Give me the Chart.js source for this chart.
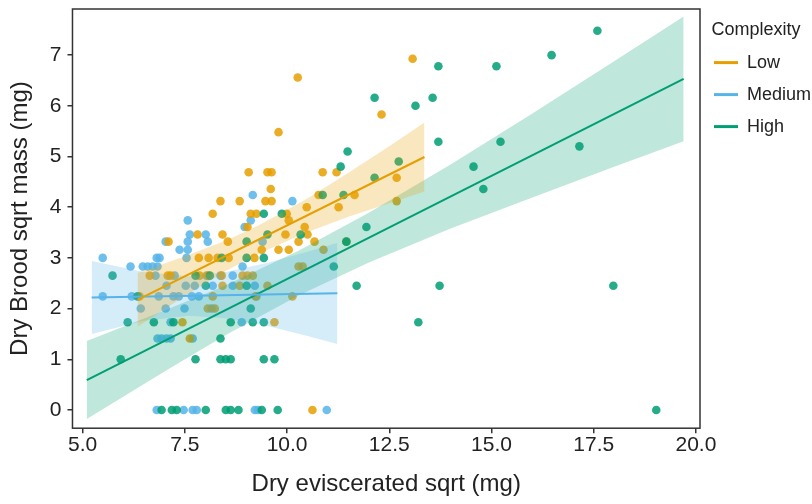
<!DOCTYPE html>
<html><head><meta charset="utf-8">
<script src="https://cdn.jsdelivr.net/npm/chart.js@4.4.1/dist/chart.umd.min.js"></script>
<style>html,body{margin:0;padding:0;background:#fff}#wrap{width:812px;height:504px;position:relative}</style>
</head><body><div id="wrap"><canvas id="c" width="812" height="504"></canvas></div>
<script>
const xTicks = [5, 7.5, 10, 12.5, 15, 17.5, 20];
const yTicks = [0, 1, 2, 3, 4, 5, 6, 7];
const groups = ['Low', 'Medium', 'High'];

const lowX = [10.26,13.07,12.31,9.79,9.06,9.52,9.62,10.87,11.21,12.68,9.60,10.77,11.65,8.37,8.84,9.47,9.62,12.68,10.48,11.26,8.18,9.11,9.25,9.99,10.04,9.03,10.43,7.81,8.42,9.96,10.50,7.10,8.55,10.28,10.67,11.45,9.38,9.79,10.04,10.89,7.84,8.08,8.30,8.57,9.20,10.28,10.38,6.64,7.08,7.15,7.86,8.06,8.40,8.91,9.03,9.16,8.42,8.84,9.52,8.18,9.23,10.13,8.06,8.23,7.44,9.69,7.62,10.62,6.39];
const lowY = [6.56,6.93,5.83,5.48,4.69,4.69,4.69,4.69,4.69,4.58,4.36,4.24,4.24,4.12,4.12,4.12,4.12,4.12,4.0,4.0,3.87,3.87,3.87,3.87,3.74,3.61,3.61,3.46,3.46,3.46,3.46,3.32,3.32,3.32,3.32,3.32,3.16,3.16,3.16,3.16,3.0,3.0,3.0,3.0,3.0,2.83,2.83,2.65,2.65,2.65,2.65,2.65,2.65,2.65,2.65,2.65,2.45,2.45,2.45,2.24,2.24,2.24,2.0,2.0,1.73,1.73,1.41,0,2.24];

const medX = [5.49,5.49,6.17,6.20,6.47,6.59,6.71,6.83,6.42,6.81,6.88,6.78,6.86,7.03,7.03,7.05,7.25,7.22,7.35,7.15,6.83,6.93,7.05,7.15,7.37,7.57,7.57,7.57,7.62,7.54,7.49,7.52,7.74,7.67,7.84,7.69,8.01,8.06,8.03,8.15,8.18,8.37,8.67,8.67,8.89,8.96,9.11,9.16,9.21,9.25,8.91,9.40,10.13,6.81,7.47,7.69,7.79,9.21,9.28,10.97];
const medY = [3.0,2.24,2.83,2.24,2.83,2.83,2.83,2.83,2.0,3.0,3.0,2.65,2.24,3.32,2.0,2.45,2.65,2.24,2.24,1.73,1.41,1.41,1.41,1.41,3.16,3.16,3.32,3.74,3.46,3.0,2.0,2.45,2.45,2.24,2.24,1.41,3.46,3.32,2.65,2.0,2.45,2.65,2.45,2.65,1.73,3.61,3.74,4.24,2.45,2.24,2.83,3.32,4.12,0,0,0,0,0,0,0];

const highX = [17.59,16.47,15.12,13.70,12.14,13.56,13.14,13.70,15.22,17.15,11.48,11.31,14.56,12.73,12.14,14.80,10.87,11.38,9.43,9.87,11.94,9.01,9.52,10.33,11.45,9.01,9.43,8.40,11.14,7.76,8.11,5.73,8.01,9.01,11.70,13.73,17.98,6.34,9.11,6.10,6.74,7.22,8.62,9.16,9.43,13.21,8.37,5.93,7.76,8.37,8.50,8.62,9.43,9.69,6.93,7.18,7.30,8.01,8.50,8.62,8.81,9.38,9.77,19.03];
const highY = [7.48,7.0,6.78,6.78,6.16,6.16,6.0,5.29,5.29,5.20,5.10,4.80,4.80,4.90,4.58,4.36,4.24,4.24,3.87,3.87,3.61,3.32,3.46,3.46,3.32,3.0,3.0,3.0,2.83,2.65,2.65,2.65,2.45,2.45,2.45,2.45,2.45,2.24,2.0,1.73,1.73,1.73,1.73,1.73,1.73,1.73,1.41,1.0,1.0,1.0,1.0,1.0,1.0,1.0,0,0,0,0,0,0,0,0,0,0];

const lowLineX = [6.34, 13.36];
const lowLineY = [2.17, 4.99];
const medLineX = [5.22, 11.23];
const medLineY = [2.22, 2.30];
const highLineX = [5.1, 19.7];
const highLineY = [0.59, 6.53];

const lowBandX = [6.34, 7.5, 8.5, 9.3, 10.5, 11.5, 12.5, 13.36];
const lowBandLo = [1.64, 2.25, 2.74, 3.08, 3.51, 3.81, 4.08, 4.31];
const lowBandHi = [2.70, 3.03, 3.34, 3.64, 4.17, 4.68, 5.20, 5.67];
const medBandX = [5.22, 6.5, 7.6, 8.5, 9.5, 10.5, 11.23];
const medBandLo = [1.50, 1.76, 1.86, 1.81, 1.66, 1.46, 1.30];
const medBandHi = [2.94, 2.72, 2.64, 2.72, 2.90, 3.12, 3.30];
const highBandX = [5.1, 7, 8.5, 10.28, 12, 14, 16, 18, 19.7];
const highBandLo = [-0.18, 0.76, 1.48, 2.26, 2.91, 3.58, 4.19, 4.80, 5.30];
const highBandHi = [1.36, 1.96, 2.46, 3.14, 3.89, 4.84, 5.85, 6.88, 7.76];

const COL = ['#E69F00', '#56B4E9', '#009E73'];
const BAND = ['rgba(230,159,0,0.25)', 'rgba(86,180,233,0.25)', 'rgba(0,158,115,0.25)'];
const PT = ['rgba(230,159,0,0.85)', 'rgba(86,180,233,0.85)', 'rgba(0,158,115,0.85)'];

const pts = (xs, ys) => xs.map((x, i) => ({x: x, y: ys[i]}));
const FONT = '"Liberation Sans", Arial, Helvetica, sans-serif';
Chart.defaults.font.family = FONT;

const lineDs = (label, xs, ys, c) => ({type: 'line', label, data: pts(xs, ys), borderColor: c, backgroundColor: c, borderWidth: 2, pointRadius: 0, fill: false, tension: 0});
const bandHi = (xs, ys, c) => ({type: 'line', label: 'bandHi', data: pts(xs, ys), borderWidth: 0, borderColor: 'rgba(0,0,0,0)', pointRadius: 0, fill: '+1', backgroundColor: c, tension: 0});
const bandLo = (xs, ys) => ({type: 'line', label: 'bandLo', data: pts(xs, ys), borderWidth: 0, borderColor: 'rgba(0,0,0,0)', pointRadius: 0, fill: false, tension: 0});
const ptDs = (xs, ys, c) => ({type: 'scatter', label: 'points', data: pts(xs, ys), backgroundColor: c, borderWidth: 0, pointRadius: 4.3, pointHoverRadius: 4.3});

const frame = {
  id: 'frame',
  beforeLayout(chart) {
    const lg = chart.legend;
    if (lg && !lg._fixedW) {
      const f = lg.fit;
      lg.fit = function () { f.call(this); this.width = 112; };
      lg._fixedW = true;
    }
  },
  afterDraw(chart) {
    const a = chart.chartArea, ctx = chart.ctx;
    ctx.save();
    ctx.strokeStyle = '#333';
    ctx.lineWidth = 1.5;
    ctx.strokeRect(a.left, a.top, a.right - a.left, a.bottom - a.top);
    ctx.restore();
  }
};

new Chart(document.getElementById('c'), {
  data: {
    datasets: [
      lineDs(groups[0], lowLineX, lowLineY, COL[0]),
      lineDs(groups[1], medLineX, medLineY, COL[1]),
      lineDs(groups[2], highLineX, highLineY, COL[2]),
      bandHi(lowBandX, lowBandHi, BAND[0]), bandLo(lowBandX, lowBandLo),
      bandHi(medBandX, medBandHi, BAND[1]), bandLo(medBandX, medBandLo),
      bandHi(highBandX, highBandHi, BAND[2]), bandLo(highBandX, highBandLo),
      ptDs(highX, highY, PT[2]),
      ptDs(lowX, lowY, PT[0]),
      ptDs(medX, medY, PT[1])
    ]
  },
  options: {
    responsive: false,
    animation: false,
    layout: {padding: {left: 4, top: 9, right: 0, bottom: 5}},
    plugins: {
      tooltip: {enabled: false},
      legend: {
        position: 'right',
        align: 'start',
        title: {display: true, text: 'Complexity', color: '#222', font: {size: 18}, padding: {top: 12, bottom: -3}, position: 'center'},
        labels: {
          boxWidth: 24, boxHeight: 3, padding: 14, color: '#222', font: {size: 18},
          generateLabels: () => groups.map((g, i) => ({text: g, fillStyle: COL[i], strokeStyle: COL[i], lineWidth: 0, hidden: false, datasetIndex: i, fontColor: '#222'}))
        }
      }
    },
    scales: {
      x: {
        type: 'linear', min: 4.75, max: 20.1,
        afterBuildTicks: s => { s.ticks = xTicks.map(v => ({value: v})); },
        ticks: {callback: v => Number(v).toFixed(1), color: '#222', font: {size: 21, lineHeight: 1.0}, padding: 2, maxRotation: 0},
        grid: {display: true, drawOnChartArea: false, drawTicks: true, tickLength: 5, color: '#333', lineWidth: 1.5},
        border: {display: false},
        title: {display: true, text: 'Dry eviscerated sqrt (mg)', color: '#222', font: {size: 24}, padding: {top: 12, bottom: 0}}
      },
      y: {
        type: 'linear', min: -0.36, max: 7.91,
        afterBuildTicks: s => { s.ticks = yTicks.map(v => ({value: v})); },
        ticks: {callback: v => String(v), color: '#222', font: {size: 21, lineHeight: 0.25}, padding: 6},
        grid: {display: true, drawOnChartArea: false, drawTicks: true, tickLength: 5, color: '#333', lineWidth: 1.5},
        border: {display: false},
        title: {display: true, text: 'Dry Brood sqrt mass (mg)', color: '#222', font: {size: 24}, padding: {top: 2, bottom: 9}}
      }
    }
  },
  plugins: [frame]
});
</script>
</body></html>
